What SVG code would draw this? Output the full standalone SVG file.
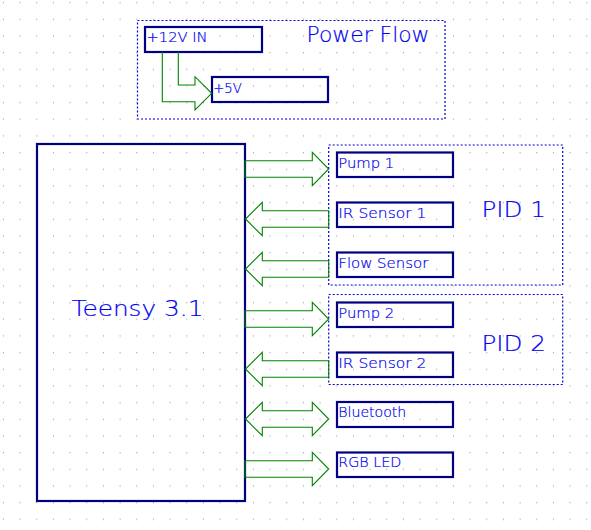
<svg xmlns="http://www.w3.org/2000/svg" width="591" height="530" viewBox="0 0 591 530">
<style>
.box{fill:none;stroke:#000084;stroke-width:2.2}
.grp{fill:none;stroke:#0000e0;stroke-width:1.2;stroke-dasharray:2,2}
.arr{fill:none;stroke:#008400;stroke-width:1.1;stroke-linejoin:miter}
.t{font-family:"DejaVu Sans","Liberation Sans",Arial,sans-serif;font-weight:200;fill:#0000f0;stroke:#0000f0;stroke-width:0.2;font-size:14px}
.big{font-family:"DejaVu Sans","Liberation Sans",Arial,sans-serif;font-weight:200;fill:#0000f0;stroke:#0000f0;stroke-width:0.2;font-size:22px}
</style>
<defs>
<pattern id="grid" x="0" y="0" width="16.6667" height="16.6667" patternUnits="userSpaceOnUse">
<rect x="2.9" y="2.2" width="1" height="1" fill="#8a8a8a"/>
</pattern>
</defs>
<rect width="591" height="530" fill="#ffffff"/>
<rect width="591" height="530" fill="url(#grid)"/>

<g id="power-flow">
<rect class="grp" x="137.5" y="20.5" width="307.5" height="98.5"/>
<text class="big" x="306.5" y="41.7" textLength="123" lengthAdjust="spacingAndGlyphs">Power Flow</text>
</g>
<g id="v12-in">
<rect class="box" x="145" y="27" width="117" height="25"/>
<text class="t" x="146.5" y="42.3" textLength="61" lengthAdjust="spacingAndGlyphs">+12V IN</text>
</g>
<g id="v5">
<rect class="box" x="212" y="77" width="116" height="25"/>
<text class="t" x="213.3" y="92.7" textLength="28.5" lengthAdjust="spacingAndGlyphs">+5V</text>
</g>

<g id="pid1">
<rect class="grp" x="328.7" y="145" width="234" height="140"/>
<text class="big" x="481.5" y="216.7" textLength="64.5" lengthAdjust="spacingAndGlyphs">PID 1</text>
</g>
<g id="pid2">
<rect class="grp" x="328.7" y="294.5" width="234" height="90"/>
<text class="big" x="481.5" y="350.7" textLength="64.5" lengthAdjust="spacingAndGlyphs">PID 2</text>
</g>

<g id="teensy">
<rect class="box" x="37" y="144" width="208" height="357"/>
<text class="big" x="71.5" y="316" textLength="132" lengthAdjust="spacingAndGlyphs">Teensy 3.1</text>
</g>

<g id="pump1">
<rect class="box" x="337" y="152.5" width="116" height="24.5"/>
<text class="t" x="338.3" y="167.7" textLength="56" lengthAdjust="spacingAndGlyphs">Pump 1</text>
</g>
<g id="ir-sensor-1">
<rect class="box" x="337" y="202.5" width="116" height="24.5"/>
<text class="t" x="338.3" y="217.7" textLength="88" lengthAdjust="spacingAndGlyphs">IR Sensor 1</text>
</g>
<g id="flow-sensor">
<rect class="box" x="337" y="252.5" width="116" height="24.5"/>
<text class="t" x="338.3" y="267.7" textLength="90" lengthAdjust="spacingAndGlyphs">Flow Sensor</text>
</g>
<g id="pump2">
<rect class="box" x="337" y="302.5" width="116" height="24.5"/>
<text class="t" x="338.3" y="317.7" textLength="56" lengthAdjust="spacingAndGlyphs">Pump 2</text>
</g>
<g id="ir-sensor-2">
<rect class="box" x="337" y="352.5" width="116" height="24.5"/>
<text class="t" x="338.3" y="367.7" textLength="88" lengthAdjust="spacingAndGlyphs">IR Sensor 2</text>
</g>
<g id="bluetooth">
<rect class="box" x="337" y="402" width="116" height="25"/>
<text class="t" x="338.3" y="417.3" textLength="68" lengthAdjust="spacingAndGlyphs">Bluetooth</text>
</g>
<g id="rgb-led">
<rect class="box" x="337" y="452.5" width="116" height="24.5"/>
<text class="t" x="338.3" y="467.3" textLength="63" lengthAdjust="spacingAndGlyphs">RGB LED</text>
</g>

<g id="connectors">
<polyline class="arr" points="162.3,52 162.3,101.7 195,101.7 195,110 211.7,93.3 195,76.7 195,85 178.3,85 178.3,52"/>
<polygon class="arr" points="245,160.7 312.3,160.7 312.3,152.3 328.7,169 312.3,185.7 312.3,177.3 245,177.3"/>
<polygon class="arr" points="328.7,210.7 262.3,210.7 262.3,202.3 245.5,219 262.3,235.7 262.3,227.3 328.7,227.3"/>
<polygon class="arr" points="328.7,260.7 262.3,260.7 262.3,252.3 245.5,269 262.3,285.7 262.3,277.3 328.7,277.3"/>
<polygon class="arr" points="245,310.7 312.3,310.7 312.3,302.3 328.7,319 312.3,335.7 312.3,327.3 245,327.3"/>
<polygon class="arr" points="328.7,360.7 262.3,360.7 262.3,352.3 245.5,369 262.3,385.7 262.3,377.3 328.7,377.3"/>
<polygon class="arr" points="245.5,419 262.3,402.3 262.3,410.7 312.3,410.7 312.3,402.3 328.7,419 312.3,435.7 312.3,427.3 262.3,427.3 262.3,435.7"/>
<polygon class="arr" points="245,460.7 312.3,460.7 312.3,452.3 328.7,469 312.3,485.7 312.3,477.3 245,477.3"/>
</g>
</svg>
